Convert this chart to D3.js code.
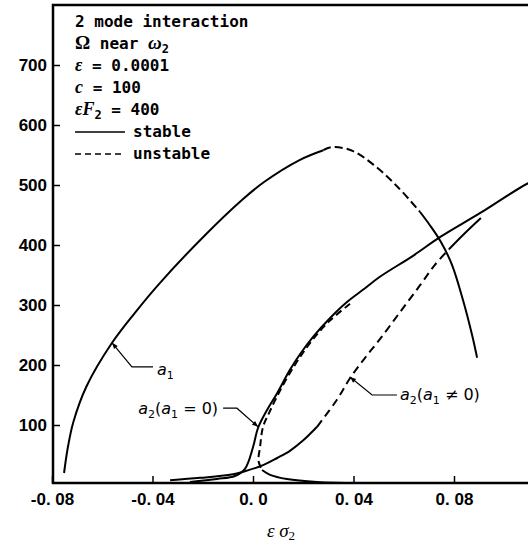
<!DOCTYPE html>
<html>
<head>
<meta charset="utf-8">
<script src="https://cdn.jsdelivr.net/npm/d3@7"></script>
<style>
  body { margin: 0; background: #fff; }
  text { fill: #000; }
</style>
</head>
<body>
<script>
// values: [eps*sigma2, amplitude]
var a1Stable1 = [[-0.0752, 20], [-0.0738, 60], [-0.0715, 105], [-0.0662, 165], [-0.0561, 237],
                 [-0.0470, 287], [-0.0370, 337], [-0.0199, 413], [-0.0044, 475], [0.0044, 505],
                 [0.0187, 542], [0.028, 558]];
var a1Unstable = [[0.028, 558], [0.031, 563], [0.039, 558], [0.0482, 533], [0.0573, 498], [0.0665, 455]];
var a1Stable2 = [[0.0665, 455], [0.0704, 433], [0.0748, 405], [0.0792, 367], [0.0836, 308],
                 [0.0872, 250], [0.0892, 212]];

var a2zeroUpper = [[-0.0251, 5], [-0.0143, 10], [-0.0072, 15], [-0.0032, 27], [0.0, 63], [0.002, 95],
                   [0.0056, 125], [0.0096, 153], [0.0147, 192], [0.0187, 218], [0.0239, 247],
                   [0.0306, 278], [0.0374, 305], [0.0446, 328], [0.0505, 347], [0.0637, 382],
                   [0.0744, 413], [0.0903, 453], [0.1095, 503], [0.115, 512]];
var a2zeroUnstable = [[0.0386, 302], [0.0306, 274], [0.0239, 243], [0.0187, 213], [0.0139, 181],
                      [0.0096, 148], [0.0065, 121], [0.004, 97], [0.0028, 63], [0.0022, 40], [0.0036, 25]];
var a2zeroLower = [[0.0036, 25], [0.0068, 17], [0.0135, 10], [0.0255, 5], [0.0426, 3]];

var a2nzStable1 = [[-0.033, 8], [-0.0211, 12], [-0.0092, 17], [-0.0032, 23], [0.004, 33],
                   [0.0096, 45], [0.0147, 57], [0.0199, 74], [0.0255, 97]];
var a2nzUnstable = [[0.0255, 97], [0.0334, 142], [0.0386, 178], [0.0446, 212], [0.0505, 243],
                    [0.0585, 288], [0.0665, 333], [0.0724, 367], [0.078, 393]];
var a2nzStable2 = [[0.078, 393], [0.0844, 420], [0.0907, 445]];

var yTicks = [100, 200, 300, 400, 500, 600, 700];
var xTicks = [-0.08, -0.04, 0, 0.04, 0.08];
var xTickLabels = ["-0. 08", "-0. 04", "0. 0", "0. 04", "0. 08"];

var screen = {width: 528, height: 546};
var plot = {left: 53, top: 5, bottom: 483, right: 528};

var x = d3.scaleLinear().domain([-0.08, 0.08]).range([52, 454]);
var y = d3.scaleLinear().domain([0, 800]).range([485, 5]);

var svg = d3.select("body").append("svg")
            .attr("width", screen.width)
            .attr("height", screen.height);

svg.append("clipPath").attr("id", "plotclip")
   .append("rect")
   .attr("x", plot.left).attr("y", plot.top)
   .attr("width", plot.right - plot.left).attr("height", plot.bottom - plot.top);

// axes
var yAxis = d3.axisLeft(y)
              .tickValues(yTicks)
              .tickSizeInner(-7)
              .tickSizeOuter(0)
              .tickPadding(6)
              .tickFormat(d3.format("d"));

svg.append("g")
   .attr("transform", "translate(" + plot.left + ",0)")
   .call(yAxis)
   .call(function(g) {
     g.select(".domain").remove();
     g.selectAll("line").attr("stroke-width", 1.5);
     g.selectAll("text")
      .attr("font-family", "Liberation Sans, Arial, sans-serif")
      .attr("font-weight", "bold")
      .attr("font-size", 17);
   });

var xAxis = d3.axisBottom(x)
              .tickValues(xTicks)
              .tickSizeInner(-7)
              .tickSizeOuter(0)
              .tickPadding(10)
              .tickFormat(function(d, i) { return xTickLabels[i]; });

svg.append("g")
   .attr("transform", "translate(0," + plot.bottom + ")")
   .call(xAxis)
   .call(function(g) {
     g.select(".domain").remove();
     g.selectAll("line").attr("stroke-width", 1.5);
     g.selectAll("text")
      .attr("font-family", "Liberation Sans, Arial, sans-serif")
      .attr("font-weight", "bold")
      .attr("font-size", 17);
   });

// frame: top, left, bottom (no right side)
svg.append("path")
   .attr("d", "M" + plot.right + "," + plot.top + "H" + plot.left + "V" + plot.bottom + "H" + plot.right)
   .attr("fill", "none")
   .attr("stroke", "#000")
   .attr("stroke-width", 2.5);

// curves
var line = d3.line()
             .x(function(d) { return x(d[0]); })
             .y(function(d) { return y(d[1]); })
             .curve(d3.curveCatmullRom.alpha(0.5));

var curves = svg.append("g").attr("clip-path", "url(#plotclip)");

var series = [
  {data: a1Stable1, dash: null},
  {data: a1Unstable, dash: "8,4"},
  {data: a1Stable2, dash: null},
  {data: a2zeroUpper, dash: null},
  {data: a2zeroUnstable, dash: "7,4"},
  {data: a2zeroLower, dash: null},
  {data: a2nzStable1, dash: null},
  {data: a2nzUnstable, dash: "8,5"},
  {data: a2nzStable2, dash: null}
];

curves.selectAll("path")
      .data(series)
      .enter()
      .append("path")
      .attr("d", function(d) { return line(d.data); })
      .attr("fill", "none")
      .attr("stroke", "#000")
      .attr("stroke-width", 2)
      .attr("stroke-dasharray", function(d) { return d.dash; });

// leaders with small arrowheads
svg.append("defs").append("marker")
   .attr("id", "head")
   .attr("viewBox", "0 0 10 10")
   .attr("refX", 10).attr("refY", 5)
   .attr("markerWidth", 7).attr("markerHeight", 5)
   .attr("orient", "auto")
   .append("path")
   .attr("d", "M0,1L10,5L0,9Z")
   .attr("fill", "#000");

var leaders = [
  [[-0.0398, 197], [-0.0482, 197], [-0.0561, 237]],
  [[-0.0119, 128], [-0.0064, 128], [0.002, 97]],
  [[0.0573, 150], [0.0474, 150], [0.0386, 180]]
];

var straight = d3.line()
                 .x(function(d) { return x(d[0]); })
                 .y(function(d) { return y(d[1]); });

svg.selectAll(".leader")
   .data(leaders)
   .enter()
   .append("path")
   .attr("class", "leader")
   .attr("d", straight)
   .attr("fill", "none")
   .attr("stroke", "#000")
   .attr("stroke-width", 1.2)
   .attr("marker-end", "url(#head)");

var labelFont = "DejaVu Sans, sans-serif";

function curveLabel(px, py, anchor, sub1, rest) {
  var t = svg.append("text")
             .attr("x", x(px)).attr("y", y(py))
             .attr("text-anchor", anchor)
             .attr("font-family", labelFont)
             .attr("font-size", 16);
  t.append("tspan").attr("font-style", "italic").text("a");
  t.append("tspan").attr("font-size", 11).attr("dy", 4).text(sub1);
  if (rest) {
    t.append("tspan").attr("dy", -4).text("(");
    t.append("tspan").attr("font-style", "italic").text("a");
    t.append("tspan").attr("font-size", 11).attr("dy", 4).text("1");
    t.append("tspan").attr("dy", -4).text(rest);
  }
}

curveLabel(-0.0382, 183, "start", "1", null);
curveLabel(-0.0139, 119, "end", "2", "  =  0)");
curveLabel(0.0585, 142, "start", "2", "  \u2260  0)");

// legend block
var legendFont = "DejaVu Sans Mono, monospace";
var lx = 75, ly = 27, step = 22;

svg.append("text").attr("x", lx).attr("y", ly)
   .attr("font-family", legendFont).attr("font-size", 16).attr("font-weight", "bold")
   .text("2 mode interaction");

var l1 = svg.append("text").attr("x", lx).attr("y", ly + step)
            .attr("font-family", legendFont).attr("font-size", 16).attr("font-weight", "bold");
l1.append("tspan").attr("font-family", "Liberation Serif, serif").attr("font-size", 19).text("\u03a9");
l1.append("tspan").text(" near ");
l1.append("tspan").attr("font-family", "Liberation Serif, serif").attr("font-style", "italic").attr("font-size", 19).text("\u03c9");
l1.append("tspan").attr("font-size", 12).attr("dy", 4).text("2");

var l2 = svg.append("text").attr("x", lx).attr("y", ly + step * 2)
            .attr("font-family", legendFont).attr("font-size", 16).attr("font-weight", "bold");
l2.append("tspan").attr("font-family", "Liberation Serif, serif").attr("font-style", "italic").attr("font-size", 18).text("\u03b5");
l2.append("tspan").text(" = 0.0001");

var l3 = svg.append("text").attr("x", lx).attr("y", ly + step * 3)
            .attr("font-family", legendFont).attr("font-size", 16).attr("font-weight", "bold");
l3.append("tspan").attr("font-family", "Liberation Serif, serif").attr("font-style", "italic").attr("font-size", 18).text("c");
l3.append("tspan").text(" = 100");

var l4 = svg.append("text").attr("x", lx).attr("y", ly + step * 4)
            .attr("font-family", legendFont).attr("font-size", 16).attr("font-weight", "bold");
l4.append("tspan").attr("font-family", "Liberation Serif, serif").attr("font-style", "italic").attr("font-size", 18).text("\u03b5F");
l4.append("tspan").attr("font-size", 12).attr("dy", 4).text("2");
l4.append("tspan").attr("dy", -4).text(" = 400");

var legendRows = [{label: "stable", dash: null}, {label: "unstable", dash: "6,4"}];

legendRows.forEach(function(r, i) {
  var yy = ly + step * (5 + i);
  svg.append("line")
     .attr("x1", lx).attr("x2", lx + 50)
     .attr("y1", yy - 5).attr("y2", yy - 5)
     .attr("stroke", "#000").attr("stroke-width", 1.5)
     .attr("stroke-dasharray", r.dash);
  svg.append("text").attr("x", lx + 58).attr("y", yy)
     .attr("font-family", legendFont).attr("font-size", 16).attr("font-weight", "bold")
     .text(r.label);
});

// axis title
var title = svg.append("text")
               .attr("x", 281).attr("y", 537)
               .attr("text-anchor", "middle")
               .attr("font-family", "Liberation Serif, serif")
               .attr("font-style", "italic")
               .attr("font-size", 19);
title.append("tspan").text("\u03b5 \u03c3");
title.append("tspan").attr("font-size", 13).attr("dy", 3).attr("font-style", "normal").text("2");
</script>
</body>
</html>
